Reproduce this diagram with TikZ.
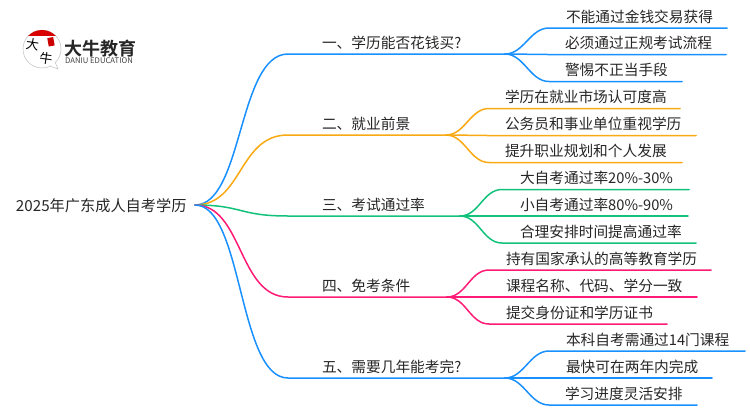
\documentclass[tikz,border=0pt]{standalone}
\usepackage{fontspec}
\setmainfont{Noto Sans CJK SC}
\newfontfamily\cjkbold{Noto Sans CJK SC Bold}
\definecolor{cblue}{HTML}{1890FF}
\definecolor{corange}{HTML}{F9A911}
\definecolor{cgreen}{HTML}{12C27A}
\definecolor{cpink}{HTML}{FF1A75}
\definecolor{ink}{HTML}{262626}
\tikzset{
  lbl/.style={anchor=base west,inner sep=0pt,outer sep=0pt,text=ink,font=\fontsize{14.7}{16}\selectfont},
  conn/.style={line width=1.5pt,line cap=round},
}
% \leafitem{name}{colour}{junction}{start x}{y}{end x}{text x}{text}
\newcommand{\leafitem}[8]{%
  \node[lbl] (#1) at (#7,#5-6) {#8};
  \coordinate (#1s) at (#4,#5);
  \coordinate (#1e) at (#6,#5);
  \draw[conn,#2] (#3) .. controls ($(#3)+(19,0)$) and ($(#1s)+(-19,0)$) .. (#1s) -- (#1e);
}
% \branchitem{name}{colour}{y}{junction x}{text}
\newcommand{\branchitem}[5]{%
  \node[lbl] (#1) at (322,#3-6) {#5};
  \coordinate (#1s) at (288,#3);
  \coordinate (#1j) at (#4,#3);
  \draw[conn,#2] (root) .. controls ($(root)+(48,0)$) and ($(#1s)+(-50,0)$) .. (#1s) -- (#1j);
}
\usetikzlibrary{calc}
\begin{document}
\begin{tikzpicture}[x=1pt,y=-1pt]
\useasboundingbox (0,0) rectangle (750,410);
\node[lbl,font=\fontsize{15.2}{16}\selectfont] (title) at (16,211) {2025年广东成人自考学历};
\coordinate (root) at (195,205);

\branchitem{b1}{cblue}{54}{505}{一、学历能否花钱买?}
\branchitem{b2}{corange}{135}{446}{二、就业前景}
\branchitem{b3}{cgreen}{216}{460}{三、考试通过率}
\branchitem{b4}{cpink}{297}{447}{四、免考条件}
\branchitem{b5}{cblue}{378}{505}{五、需要几年能考完?}

\leafitem{l11}{cblue}{b1j}{549}{28}{727}{566}{不能通过金钱交易获得}
\leafitem{l12}{cblue}{b1j}{549}{54.5}{726}{565}{必须通过正规考试流程}
\leafitem{l13}{cblue}{b1j}{549}{81.5}{682}{565}{警惕不正当手段}
\leafitem{l21}{corange}{b2j}{489}{108.5}{680}{505}{学历在就业市场认可度高}
\leafitem{l22}{corange}{b2j}{489}{135.5}{696}{505}{公务员和事业单位重视学历}
\leafitem{l23}{corange}{b2j}{489}{162.5}{682}{505}{提升职业规划和个人发展}
\leafitem{l31}{cgreen}{b3j}{502}{189.5}{689}{520}{大自考通过率20\%-30\%}
\leafitem{l32}{cgreen}{b3j}{502}{216}{688}{520}{小自考通过率80\%-90\%}
\leafitem{l33}{cgreen}{b3j}{502}{243}{696}{520}{合理安排时间提高通过率}
\leafitem{l41}{cpink}{b4j}{489}{270}{711}{506}{持有国家承认的高等教育学历}
\leafitem{l42}{cpink}{b4j}{489}{297}{697}{506}{课程名称、代码、学分一致}
\leafitem{l43}{cpink}{b4j}{489}{324}{667}{506}{提交身份证和学历证书}
\leafitem{l51}{cblue}{b5j}{549}{351}{745}{566}{本科自考需通过14门课程}
\leafitem{l52}{cblue}{b5j}{549}{378}{712}{566}{最快可在两年内完成}
\leafitem{l53}{cblue}{b5j}{549}{405}{697}{565}{学习进度灵活安排}

% logo
\fill[white,draw=black!25,line width=0.5pt] (42,49) circle (19);
\fill[white,draw=black!25,line width=0.5pt] (50,66) -- (58,69) -- (55,62);
\begin{scope}
  \clip (42,49) circle (19);
  \fill[red!85!black] (22,29) rectangle (62,35.5);
\end{scope}
\fill[red!80!black,rotate around={10:(51,42)}] (48,37.5) rectangle (54,46);
\node[inner sep=0pt,text=black,rotate=-8,font=\fontsize{13}{13}\selectfont] (logoA) at (32.5,44.5) {大};
\node[inner sep=0pt,text=black,rotate=-8,font=\fontsize{13}{13}\selectfont] (logoB) at (46,58.5) {牛};
\node[anchor=base west,inner sep=0pt,text=black!85,font=\cjkbold\fontsize{18}{18}\selectfont] (brand) at (64,55) {大牛教育};
\node[anchor=base west,inner sep=0pt,text=black!75,font=\fontsize{7.7}{8}\selectfont] (brandsub) at (65,63) {DANIU EDUCATION};
\end{tikzpicture}
\end{document}
